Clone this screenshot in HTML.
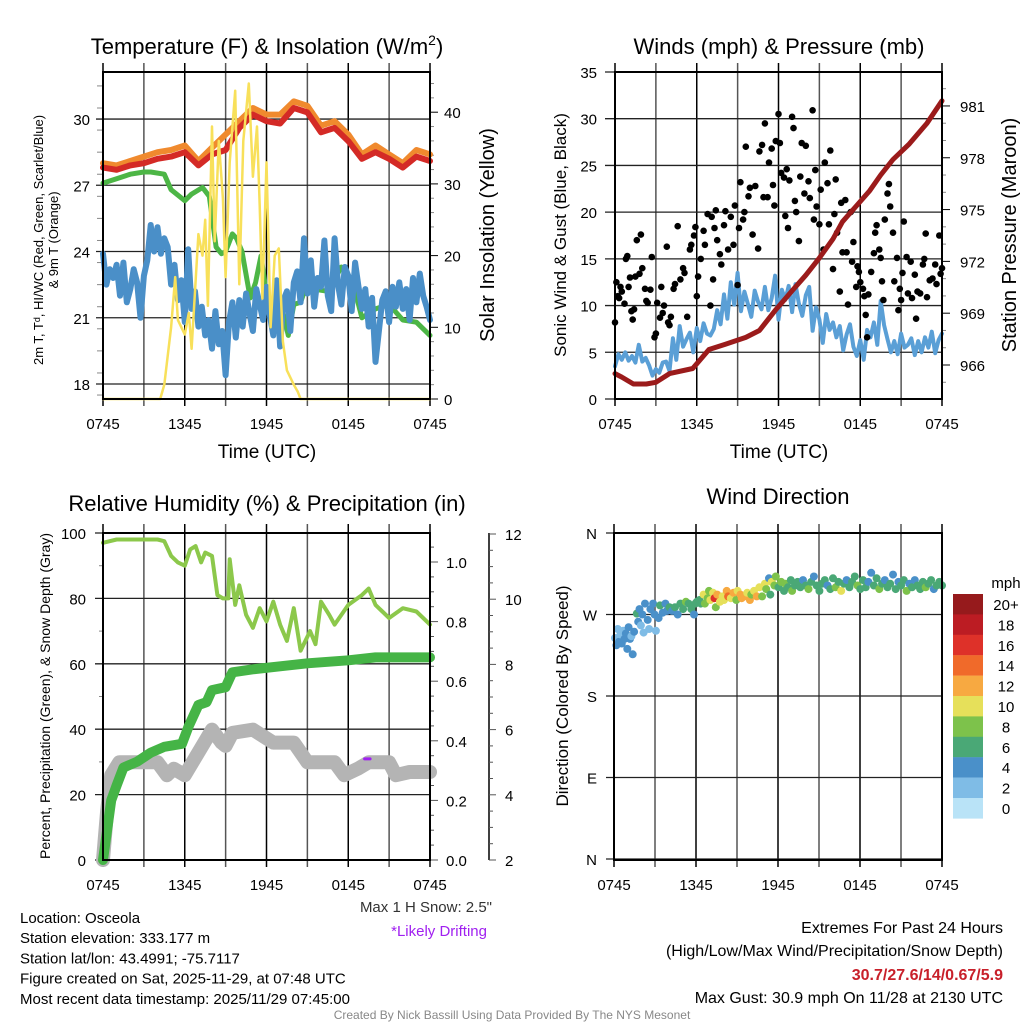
<!DOCTYPE html>
<html><head><meta charset="utf-8"><style>
body{margin:0;background:#fff;}
svg{display:block;font-family:"Liberation Sans",Arial,sans-serif;}
</style></head><body>
<svg id="fig" width="1024" height="1024" viewBox="0 0 1024 1024" xmlns="http://www.w3.org/2000/svg"></svg>
<script>
// ---------- DATA ----------
const tickHours = [0, 6, 12, 18, 24];
const timeLabels = ["0745", "1345", "1945", "0145", "0745"];
const tempRed = [27.8,27.7,27.9,28.0,28.2,28.3,28.5,27.9,28.4,28.6,29.6,30.2,29.9,29.8,30.5,30.3,29.4,29.6,29.0,28.2,28.5,28.2,27.8,28.3,28.1];
const tempOrange = [28.0,27.9,28.1,28.3,28.5,28.6,28.8,28.1,28.7,29.3,29.9,30.5,30.2,30.2,30.8,30.6,29.7,29.9,29.3,28.4,28.8,28.4,28.0,28.6,28.4];
const dewHours = [0,1,2,3,3.5,4.5,5,6,6.5,7.3,7.8,8.3,8.7,9,9.5,9.8,10.2,10.8,11.2,11.6,12.2,12.6,13,13.6,14,14.5,15,15.5,16.5,17.5,18.3,19,20,21,22,23,24];
const dewVals = [27.1,27.3,27.5,27.6,27.6,27.5,26.8,26.3,26.6,26.9,26.5,24.2,23.9,24.0,24.8,24.6,24.0,21.9,22.6,23.8,21.2,20.7,21.8,20.2,21.6,21.7,22.6,22.3,22.2,23.3,22.7,21.0,21.4,21.6,20.9,20.8,20.2];
const tempBlue = [23.9,22.5,23.2,22.8,23.4,22.0,23.5,21.7,22.3,23.2,22.6,21.0,22.9,23.6,25.2,24.0,25.1,23.9,24.6,24.2,22.5,23.4,21.8,22.7,20.8,24.1,21.4,22.2,20.6,21.5,20.2,20.9,19.6,21.3,19.8,20.4,18.4,20.8,21.7,20.1,21.8,20.6,22.1,21.2,20.4,22.3,21.6,20.9,22.4,21.1,20.2,22.7,19.7,21.8,22.2,20.4,22.6,23.1,21.7,24.6,22.1,23.6,21.5,22.8,22.4,24.5,22.0,21.3,24.6,22.5,21.6,23.3,22.9,21.3,23.5,22.4,21.4,22.3,20.6,21.9,19.0,20.4,21.8,22.2,20.8,22.4,21.5,22.6,21.4,22.3,20.9,22.8,21.7,23.0,22.0,21.5,20.9];
const solarHours = [0,4.2,4.5,5,5.3,5.5,6,6.3,6.5,7,7.3,7.5,7.7,8,8.2,8.5,8.8,9,9.3,9.7,10,10.3,10.7,11,11.3,11.5,11.7,12,12.3,12.6,12.9,13.2,13.5,14,14.3,14.5,24];
const solarVals = [0,0,2,10,17,11,9,12,7,23,20,25,13,38,22,36,28,17,33,43,16,36,44,31,38,27,14,33,10,20,21,8,4,2,1,0,0];
const tempTicks = [18,21,24,27,30];
const solarTicks = [0,10,20,30,40];

const windBlue = [3.5,4.8,4.2,5.0,4.1,4.6,3.9,5.8,4.0,4.4,3.6,2.5,3.2,2.8,3.9,4.0,3.0,6.5,4.2,7.8,5.6,6.4,7.1,5.0,7.6,6.2,8.1,7.0,6.8,7.5,9.5,8.0,11.2,8.6,12.5,10.1,13.5,9.4,11.5,10.2,8.8,11.6,10.4,9.6,12.0,9.5,10.8,13.2,8.5,11.7,10.6,12.1,9.3,12.3,10.2,8.9,11.1,12.0,7.3,9.8,8.5,6.0,9.1,7.4,8.2,6.6,7.8,5.2,6.9,8.0,5.6,4.6,6.3,4.2,7.4,6.6,8.2,5.8,10.5,7.9,6.4,5.0,6.2,4.8,7.0,5.5,5.8,6.5,4.7,6.2,5.0,6.6,5.5,7.2,4.9,6.3,7.0];
const pressHours = [0,0.5,1.35,2.3,3,4.0,5.7,6.9,8.1,9.6,10.6,11.8,13.0,14.0,15.0,16.0,16.7,17.7,18.7,19.5,20.4,21.6,22.9,24];
const pressVals = [965.5,965.3,964.9,964.9,965.0,965.5,965.8,966.9,967.2,967.6,968.0,969.2,970.3,971.2,972.2,973.3,974.3,975.2,976.1,977.0,977.9,978.8,980.0,981.3];
const gustPoints = [[0,8.2],[0.1,12.5],[0.2,11],[0.3,10.8],[0.4,12],[0.5,11.5],[0.7,10.2],[0.8,15],[0.9,15.3],[1,12],[1.1,13],[1.2,9.4],[1.3,8.5],[1.4,9.6],[1.5,13.1],[1.6,17],[1.8,13.4],[1.9,17.6],[2,14],[2.2,11.8],[2.3,10.5],[2.4,10.3],[2.6,11.7],[2.7,15.2],[2.9,6.6],[3,7],[3.1,10.3],[3.3,8.7],[3.4,12],[3.5,9.2],[3.6,10],[3.8,16.3],[3.9,8.2],[4.0,7.9],[4.1,8.8],[4.3,11.8],[4.4,12.3],[4.6,18.5],[4.8,12.8],[5,14],[5.1,13.5],[5.3,8.8],[5.5,16],[5.6,16.5],[5.8,17.5],[5.9,18.4],[6,11],[6.1,13.1],[6.3,15],[6.5,18],[6.6,16.5],[6.8,19.8],[7,10],[7.1,19.5],[7.2,12.8],[7.3,18.3],[7.4,20.2],[7.5,17],[7.7,15.5],[7.8,14.4],[8,18.6],[8.1,20.1],[8.3,16],[8.5,19.5],[8.7,16.5],[8.8,20.7],[9,12.2],[9.1,18.3],[9.2,23.2],[9.4,19.2],[9.5,20],[9.6,27],[9.8,21.7],[9.9,22.6],[10.1,17.6],[10.3,22.8],[10.5,16.1],[10.6,26.5],[10.8,27.2],[10.9,21.6],[11,29.5],[11.2,21.6],[11.3,25.3],[11.5,26.8],[11.6,22.9],[11.7,20.7],[11.8,27.6],[12,30.5],[12.1,27.4],[12.2,24.2],[12.4,23.7],[12.5,19.6],[12.6,24.6],[12.7,18.3],[12.8,23.4],[13,30.2],[13.1,29.0],[13.2,21.2],[13.3,20.0],[13.5,16.9],[13.6,23.8],[13.7,27.4],[13.9,22.0],[14,27.1],[14.2,23.3],[14.3,21.5],[14.5,30.9],[14.6,19.2],[14.7,24.5],[14.8,20.6],[15,18.7],[15.1,22.4],[15.3,16.0],[15.4,25.3],[15.6,23.1],[15.7,18.7],[15.8,26.6],[16,13.9],[16.1,19.8],[16.2,23.5],[16.3,17.8],[16.5,11.5],[16.6,21],[16.7,15.7],[16.9,21.3],[17,15.7],[17.1,10.1],[17.3,20],[17.4,14.7],[17.5,16.8],[17.7,12],[17.8,14.2],[17.9,13.6],[18,12.5],[18.2,11.8],[18.3,11],[18.4,9],[18.5,6.6],[18.6,11.2],[18.8,13.6],[19,15.6],[19.1,17.8],[19.2,18.6],[19.4,16],[19.5,15.1],[19.6,12.6],[19.7,10.6],[19.8,19.2],[20,22],[20.1,23],[20.2,20.6],[20.4,17.8],[20.5,12.6],[20.7,15.1],[20.8,9.5],[20.9,11.8],[21.0,10.6],[21.1,13.5],[21.2,19],[21.4,15.2],[21.5,11.3],[21.7,14.7],[21.8,10.8],[22,13.3],[22.1,8.6],[22.2,11.5],[22.4,11.3],[22.6,14.4],[22.7,15],[22.8,17.7],[22.9,10.9],[23.1,12.7],[23.3,12.9],[23.5,14.4],[23.6,12.3],[23.8,17.5],[23.9,13.4],[24,14]];
const windTicks = [0,5,10,15,20,25,30,35];
const pressTicks = [966,969,972,975,978,981];

const rhHours = [0,1,2,3,4,4.5,5,5.5,6,6.4,6.8,7.2,7.5,8,8.4,8.8,9.2,9.3,9.7,10,10.5,11,11.5,12,12.5,13,13.5,14,14.5,15.2,15.6,16,16.6,17,18,19,19.5,20,21,22,23,24];
const rhVals = [97,98,98,98,98,97.5,93,91,90,95,96,91,94,93,81,80,80,92,78,84,75,71,77,73,79,72,67,77,64,70,66,79,75,72,78,81,83,78,74,77,76,72];
const precipHours = [0,0.3,0.6,1,1.5,2.5,3.5,4.5,5.8,6.3,7,7.6,8,9,9.5,11,13,15,18,20,24];
const precipVals = [0,0.1,0.2,0.25,0.31,0.33,0.36,0.38,0.39,0.45,0.52,0.53,0.57,0.58,0.63,0.64,0.65,0.66,0.67,0.68,0.68];
const snowHours = [0,0.3,0.6,1.2,2,4,4.7,5.2,6,7,8,8.7,9,9.5,11,12.5,14,15,17,17.7,18.7,19.5,21,21.5,22.5,24];
const snowVals = [2.0,3.5,4.6,5.0,5.0,5.0,4.6,4.8,4.6,5.3,6.0,5.6,5.5,5.9,6.0,5.6,5.6,5.0,5.0,4.6,4.8,5.0,5.0,4.6,4.7,4.7];
const driftHours = [19.2,19.6];
const driftVals = [5.1,5.1];
const pctTicks = [0,20,40,60,80,100];
const precipTicks = [0.0,0.2,0.4,0.6,0.8,1.0];
const snowTicks = [2,4,6,8,10,12];

// Wind direction [hour, degrees, speed mph]
const dirPoints = [[0,244,3],[0.1,236,4],[0.2,254,2],[0.3,240,4],[0.4,248,3],[0.5,238,4],[0.6,252,2],[0.7,243,4],[0.8,249,4],[0.9,232,4],[1.0,256,4],[1.1,243,4],[1.2,246,3],[1.3,226,4],[1.4,251,4],[1.6,271,6],[1.7,262,4],[1.8,276,4],[1.9,258,2],[2.0,270,4],[2.1,250,2],[2.2,282,4],[2.4,264,4],[2.5,254,2],[2.6,276,4],[2.8,282,4],[2.9,270,4],[3.0,252,2],[3.2,266,4],[3.3,280,6],[3.5,272,4],[3.7,282,4],[3.8,274,4],[4.0,278,6],[4.2,274,4],[4.4,278,6],[4.6,270,4],[4.8,282,6],[5.0,276,6],[5.2,284,8],[5.4,282,6],[5.6,276,6],[5.8,270,4],[5.9,282,6],[6.0,284,6],[6.2,286,6],[6.3,282,6],[6.5,292,10],[6.6,282,8],[6.8,288,8],[6.9,296,8],[7.0,286,10],[7.2,294,10],[7.3,288,16],[7.4,278,8],[7.5,292,12],[7.7,284,10],[7.9,290,10],[8.0,286,10],[8.2,296,12],[8.3,290,14],[8.5,288,10],[8.7,294,12],[8.9,286,8],[9.0,296,10],[9.2,292,12],[9.3,288,12],[9.5,290,12],[9.7,294,10],[9.9,286,12],[10.0,292,8],[10.2,296,10],[10.4,290,12],[10.6,300,10],[10.8,290,8],[11.0,304,10],[11.1,298,8],[11.3,310,4],[11.4,292,6],[11.5,306,10],[11.7,302,8],[11.8,312,8],[12.0,300,6],[12.2,306,8],[12.4,296,6],[12.5,304,8],[12.7,300,6],[12.9,308,6],[13.0,296,8],[13.2,302,6],[13.4,306,6],[13.6,300,6],[13.8,308,4],[14.0,302,6],[14.2,298,8],[14.4,306,6],[14.6,312,4],[14.8,302,6],[15.0,296,6],[15.2,304,6],[15.4,308,6],[15.6,302,4],[15.8,298,6],[16.0,310,6],[16.2,300,8],[16.4,306,6],[16.6,296,10],[16.8,304,6],[17.0,308,4],[17.2,300,6],[17.4,306,6],[17.6,312,6],[17.8,302,8],[18.0,298,6],[18.2,308,6],[18.4,300,6],[18.6,306,4],[18.8,316,4],[19.0,302,6],[19.2,310,6],[19.4,298,8],[19.6,304,6],[19.8,308,4],[20.0,300,6],[20.2,304,6],[20.4,314,4],[20.6,298,6],[20.8,306,4],[21.0,302,6],[21.2,308,6],[21.4,296,8],[21.6,304,4],[21.8,300,6],[22.0,308,4],[22.2,302,6],[22.4,298,6],[22.6,306,6],[22.8,300,8],[23.0,304,6],[23.2,308,6],[23.4,298,4],[23.6,302,6],[23.8,306,6],[24,302,6]];
const dirTicks = [0,90,180,270,360];
const dirLabels = ["N","E","S","W","N"];
const speedColors = ["#b9e3f7","#7fbce6","#4a90c9","#4aa876","#7dc24b","#e6e05a","#f7a941","#f06a2a","#de3129","#bc1c23","#961a1c"];
const speedLabels = ["0","2","4","6","8","10","12","14","16","18","20+"];

// ---------- DRAWING ----------
const NS = "http://www.w3.org/2000/svg";
const svg = document.getElementById("fig");
function mk(tag, attrs, name, parent) {
  const el = document.createElementNS(NS, tag);
  for (const k in attrs) el.setAttribute(k, attrs[k]);
  
  
  (parent || svg).appendChild(el);
  return el;
}
function txt(s, x, y, size, anchor, name, extra) {
  const t = mk("text", Object.assign({x: x, y: y, "font-size": size, "text-anchor": anchor || "middle", fill: "#000"}, extra || {}), name);
  t.textContent = s;
  return t;
}
function line(x1, y1, x2, y2, stroke, w, name) {
  return mk("line", {x1: x1, y1: y1, x2: x2, y2: y2, stroke: stroke, "stroke-width": w}, name);
}
function poly(xs, ys, xf, yf, stroke, w, name) {
  const pts = xs.map((h, i) => xf(h).toFixed(1) + "," + yf(ys[i]).toFixed(1)).join(" ");
  return mk("polyline", {points: pts, fill: "none", stroke: stroke, "stroke-width": w, "stroke-linejoin": "round", "stroke-linecap": "round"}, name);
}
const seq = (n, step) => Array.from({length: n}, (_, i) => i * step);

function panelFrame(x0, x1, y0, y1, prefix) {
  for (let h = 0; h <= 24; h += 3) {
    const x = x0 + h * (x1 - x0) / 24;
    line(x, y0 - 9, x, y1 + 7, (h % 6 === 0) ? "#000" : "#555", 1.5, prefix + "-vgrid");
  }
  for (let i = 0; i < tickHours.length; i++) {
    const x = x0 + tickHours[i] * (x1 - x0) / 24;
    txt(timeLabels[i], x, y1 + 30, 15, "middle", prefix + "-x-tick-label");
  }
}
function box(x0, x1, y0, y1, name) {
  mk("rect", {x: x0, y: y0, width: x1 - x0, height: y1 - y0, fill: "none", stroke: "#000", "stroke-width": 2}, name);
}

// ===== Panel 1: Temperature =====
const X1 = h => 103 + h * 13.625;
const yT = v => 384 - (v - 18) * 22.08;
const yS = v => 399 - v * 7.17;
const t1 = txt("Temperature (F) & Insolation (W/m", 267, 54, 22, "middle", "temperature-title");
const sup = document.createElementNS(NS, "tspan");


sup.setAttribute("font-size", 14); sup.setAttribute("dy", -9); sup.textContent = "2";
t1.appendChild(sup);
const cl = document.createElementNS(NS, "tspan");


cl.setAttribute("dy", 9); cl.textContent = ")";
t1.appendChild(cl);
panelFrame(103, 430, 72, 399, "temp");
tempTicks.forEach(v => { line(96, yT(v), 430, yT(v), "#222", 1.3, "temp-hgrid"); txt(String(v), 90, yT(v) + 6, 15, "end", "temp-y-tick-label"); });
for (let v = 17.5; v <= 32; v += 1) line(97, yT(v), 103, yT(v), "#888", 1, "temp-minor-tick");
for (let v = 0; v <= 44; v += 2) line(430, yS(v), v % 10 === 0 ? 438 : 434, yS(v), v % 10 === 0 ? "#000" : "#888", 1, "solar-tick");
solarTicks.forEach(v => txt(String(v), 444, yS(v) + 6, 15, "start", "solar-y-tick-label"));
poly(seq(25, 1), tempOrange, X1, yT, "#f08a2e", 6, "temp-9m-orange-line");
poly(seq(25, 1), tempRed, X1, yT, "#d42a26", 6, "temp-2m-red-line");
poly(dewHours, dewVals, X1, yT, "#4db646", 5, "dewpoint-green-line");
poly(seq(97, 0.25), tempBlue, X1, yT, "#4a8fc8", 6, "windchill-blue-line");
poly(solarHours, solarVals, X1, yS, "#f8e05a", 2.5, "solar-yellow-line");
box(103, 430, 72, 399, "temp-plot-frame");
const yl1 = mk("text", {transform: "translate(43,240) rotate(-90)", "font-size": 13, "text-anchor": "middle"}, "temp-y-axis-title");
yl1.textContent = "2m T, T\u1D48, HI/WC (Red, Green, Scarlet/Blue)";
const yl1b = mk("text", {transform: "translate(58,240) rotate(-90)", "font-size": 13, "text-anchor": "middle"}, "temp-y-axis-title-line2");
yl1b.textContent = "& 9m T (Orange)";
mk("text", {transform: "translate(494,235) rotate(-90)", "font-size": 20, "text-anchor": "middle"}, "solar-y-axis-title").textContent = "Solar Insolation (Yellow)";
txt("Time (UTC)", 267, 458, 19, "middle", "temp-x-axis-title");

// ===== Panel 2: Winds =====
const X2 = h => 615 + h * 13.625;
const yW = v => 399 - v * 9.343;
const yP = p => 365 - (p - 966) * 17.27;
txt("Winds (mph) & Pressure (mb)", 779, 54, 22, "middle", "winds-title");
panelFrame(615, 942, 72, 399, "wind");
windTicks.forEach(v => { line(605, yW(v), 942, yW(v), "#222", 1.3, "wind-hgrid"); txt(String(v), 597, yW(v) + 6, 15, "end", "wind-y-tick-label"); });
for (let p = 965; p <= 982; p += 1) line(942, yP(p), (p - 966) % 3 === 0 ? 950 : 946, yP(p), (p - 966) % 3 === 0 ? "#000" : "#888", 1, "pressure-tick");
pressTicks.forEach(p => txt(String(p), 960, yP(p) + 6, 15, "start", "pressure-y-tick-label"));
poly(seq(97, 0.25), windBlue, X2, yW, "#5a9fd6", 4, "sonic-wind-blue-line");
gustPoints.forEach(p => mk("circle", {cx: X2(p[0]).toFixed(1), cy: yW(p[1]).toFixed(1), r: 3.3, fill: "#000"}, "gust-point"));
poly(pressHours, pressVals, X2, yP, "#9b1b1b", 5, "pressure-maroon-line");
box(615, 942, 72, 399, "wind-plot-frame");
mk("text", {transform: "translate(566,235) rotate(-90)", "font-size": 17, "text-anchor": "middle"}, "wind-y-axis-title").textContent = "Sonic Wind & Gust (Blue, Black)";
mk("text", {transform: "translate(1016,235) rotate(-90)", "font-size": 20, "text-anchor": "middle"}, "pressure-y-axis-title").textContent = "Station Pressure (Maroon)";
txt("Time (UTC)", 779, 458, 19, "middle", "wind-x-axis-title");

// ===== Panel 3: RH & precip =====
const yPct = v => 860 - v * 3.27;
const yPr = v => 860 - v * 298;
const ySn = v => 860 - (v - 2) * 32.6;
txt("Relative Humidity (%) & Precipitation (in)", 267, 511, 22, "middle", "humidity-title");
panelFrame(103, 430, 533, 860, "rh");
pctTicks.forEach(v => { line(95, yPct(v), 430, yPct(v), "#222", 1.3, "rh-hgrid"); txt(String(v), 86, yPct(v) + 6, 15, "end", "pct-y-tick-label"); });
for (let v = 10; v < 100; v += 20) line(99, yPct(v), 103, yPct(v), "#888", 1, "pct-minor-tick");
for (let v = 0; v <= 1.1; v += 0.05) line(430, yPr(v), Math.round(v * 100) % 20 === 0 ? 438 : 434, yPr(v), "#555", 1, "precip-tick");
precipTicks.forEach(v => txt(v.toFixed(1), 446, yPr(v) + 6, 15, "start", "precip-y-tick-label"));
line(489, 533, 489, 860, "#000", 1.5, "snow-axis-line");
for (let v = 2; v <= 12; v += 0.5) line(489, ySn(v), v % 2 === 0 ? 496 : 493, ySn(v), "#555", 1, "snow-tick");
snowTicks.forEach(v => txt(String(v), 505, ySn(v) + 6, 15, "start", "snow-y-tick-label"));
poly(snowHours, snowVals, X1, ySn, "#b4b4b4", 14, "snow-depth-gray-line");
poly(precipHours, precipVals, X1, yPr, "#45b446", 10, "precip-green-line");
poly(rhHours, rhVals, X1, yPct, "#8cc84b", 4, "rh-lightgreen-line");
poly(driftHours, driftVals, X1, ySn, "#a020f0", 3, "drift-marker");
box(103, 430, 533, 860, "rh-plot-frame");
mk("text", {transform: "translate(50,696) rotate(-90)", "font-size": 14, "text-anchor": "middle"}, "rh-y-axis-title").textContent = "Percent, Precipitation (Green), & Snow Depth (Gray)";
txt("Max 1 H Snow: 2.5\"", 492, 912, 15, "end", "max-snow-note", {fill: "#333"});
txt("*Likely Drifting", 487, 936, 15, "end", "drifting-note", {fill: "#a020f0"});

// ===== Panel 4: Wind direction =====
const yD = d => 859 - d * 0.9056;
txt("Wind Direction", 778, 504, 22, "middle", "direction-title");
panelFrame(614, 942, 533, 860, "dir");
dirTicks.forEach((d, i) => { line(606, yD(d), 942, yD(d), "#222", 1.3, "dir-hgrid"); txt(dirLabels[i], 597, yD(d) + 6, 15, "end", "dir-y-tick-label"); });
dirPoints.forEach(p => {
  const ci = Math.min(10, Math.floor(p[2] / 2));
  mk("circle", {cx: X2(p[0]).toFixed(1), cy: yD(p[1]).toFixed(1), r: 4, fill: speedColors[ci]}, "direction-point");
});
box(614, 942, 533, 860, "dir-plot-frame");
mk("text", {transform: "translate(568,696) rotate(-90)", "font-size": 17, "text-anchor": "middle"}, "dir-y-axis-title").textContent = "Direction (Colored By Speed)";
txt("mph", 1006, 588, 15, "middle", "colorbar-title");
for (let i = 10; i >= 0; i--) {
  const y = 594 + (10 - i) * 20.4;
  mk("rect", {x: 953, y: y.toFixed(1), width: 30, height: 20.6, fill: speedColors[i]}, "colorbar-swatch");
  txt(speedLabels[i], 1006, y + 16, 15, "middle", "colorbar-label");
}

// ===== Footer =====
const info = ["Location: Osceola", "Station elevation: 333.177 m", "Station lat/lon: 43.4991; -75.7117", "Figure created on Sat, 2025-11-29, at 07:48 UTC", "Most recent data timestamp: 2025/11/29 07:45:00"];
info.forEach((s, i) => txt(s, 20, 923 + i * 20.2, 15, "start", "station-info-line"));
txt("Extremes For Past 24 Hours", 1003, 933, 16, "end", "extremes-heading");
txt("(High/Low/Max Wind/Precipitation/Snow Depth)", 1003, 956, 16, "end", "extremes-subheading");
txt("30.7/27.6/14/0.67/5.9", 1003, 980, 16, "end", "extremes-values", {fill: "#c8202a", "font-weight": "bold"});
txt("Max Gust: 30.9 mph On 11/28 at 2130 UTC", 1003, 1003, 16, "end", "max-gust-note");
txt("Created By Nick Bassill Using Data Provided By The NYS Mesonet", 512, 1019, 12, "middle", "credit-line", {fill: "#888"});
</script>
</body></html>
